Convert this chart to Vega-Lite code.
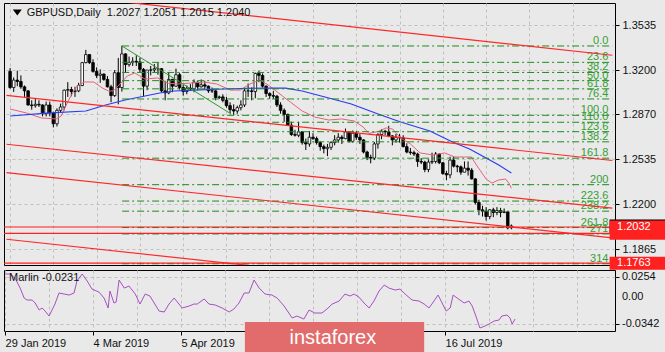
{
"$schema": "https://vega.github.io/schema/vega-lite/v6.json",
"background": "#e9e9e9",
"padding": {"left": 2, "top": 2, "right": 0, "bottom": 0},
"bounds": "flush",
"spacing": 5,
"config": {
  "view": {"stroke": "#000", "strokeWidth": 1, "fill": "#e9e9e9"},
  "font": "Liberation Sans",
  "axis": {"labelFont": "Liberation Sans", "labelFontSize": 11, "labelColor": "#111", "tickColor": "#000", "gridColor": "#c0c0c0", "gridDash": [3, 3], "gridWidth": 1, "domain": false, "zindex": 0, "labelOverlap": false}
},
"datasets": {
  "candles": [
{"d":"Jan29","i":0,"o":1.3190,"h":1.3215,"l":1.3060,"c":1.3070},
{"d":"Jan30","i":1,"o":1.3070,"h":1.3145,"l":1.3037,"c":1.3125},
{"d":"Jan31","i":2,"o":1.3125,"h":1.3195,"l":1.3080,"c":1.3115},
{"d":"Feb01","i":3,"o":1.3115,"h":1.3160,"l":1.3060,"c":1.3075},
{"d":"Feb04","i":4,"o":1.3075,"h":1.3085,"l":1.3000,"c":1.3045},
{"d":"Feb05","i":5,"o":1.3045,"h":1.3050,"l":1.2935,"c":1.2940},
{"d":"Feb06","i":6,"o":1.2940,"h":1.2975,"l":1.2905,"c":1.2935},
{"d":"Feb07","i":7,"o":1.2935,"h":1.2990,"l":1.2920,"c":1.2945},
{"d":"Feb08","i":8,"o":1.2945,"h":1.2975,"l":1.2925,"c":1.2940},
{"d":"Feb11","i":9,"o":1.2940,"h":1.2945,"l":1.2855,"c":1.2875},
{"d":"Feb12","i":10,"o":1.2875,"h":1.2965,"l":1.2855,"c":1.2940},
{"d":"Feb13","i":11,"o":1.2940,"h":1.2965,"l":1.2855,"c":1.2880},
{"d":"Feb14","i":12,"o":1.2880,"h":1.2890,"l":1.2773,"c":1.2800},
{"d":"Feb15","i":13,"o":1.2800,"h":1.2915,"l":1.2780,"c":1.2900},
{"d":"Feb18","i":14,"o":1.2900,"h":1.2950,"l":1.2885,"c":1.2925},
{"d":"Feb19","i":15,"o":1.2925,"h":1.3055,"l":1.2900,"c":1.3050},
{"d":"Feb20","i":16,"o":1.3050,"h":1.3110,"l":1.3000,"c":1.3055},
{"d":"Feb21","i":17,"o":1.3055,"h":1.3075,"l":1.3005,"c":1.3040},
{"d":"Feb22","i":18,"o":1.3040,"h":1.3075,"l":1.3000,"c":1.3045},
{"d":"Feb25","i":19,"o":1.3045,"h":1.3105,"l":1.3035,"c":1.3085},
{"d":"Feb26","i":20,"o":1.3085,"h":1.3260,"l":1.3080,"c":1.3255},
{"d":"Feb27","i":21,"o":1.3255,"h":1.3350,"l":1.3250,"c":1.3315},
{"d":"Feb28","i":22,"o":1.3315,"h":1.3315,"l":1.3245,"c":1.3255},
{"d":"Mar01","i":23,"o":1.3255,"h":1.3280,"l":1.3180,"c":1.3190},
{"d":"Mar04","i":24,"o":1.3190,"h":1.3220,"l":1.3140,"c":1.3160},
{"d":"Mar05","i":25,"o":1.3160,"h":1.3205,"l":1.3105,"c":1.3170},
{"d":"Mar06","i":26,"o":1.3170,"h":1.3175,"l":1.3120,"c":1.3130},
{"d":"Mar07","i":27,"o":1.3130,"h":1.3155,"l":1.3070,"c":1.3075},
{"d":"Mar08","i":28,"o":1.3075,"h":1.3090,"l":1.2960,"c":1.3010},
{"d":"Mar11","i":29,"o":1.3010,"h":1.3200,"l":1.3000,"c":1.3180},
{"d":"Mar12","i":30,"o":1.3180,"h":1.3290,"l":1.2945,"c":1.3070},
{"d":"Mar13","i":31,"o":1.3070,"h":1.3381,"l":1.3040,"c":1.3320},
{"d":"Mar14","i":32,"o":1.3320,"h":1.3325,"l":1.3180,"c":1.3240},
{"d":"Mar15","i":33,"o":1.3240,"h":1.3300,"l":1.3225,"c":1.3255},
{"d":"Mar18","i":34,"o":1.3255,"h":1.3295,"l":1.3230,"c":1.3265},
{"d":"Mar19","i":35,"o":1.3265,"h":1.3310,"l":1.3230,"c":1.3260},
{"d":"Mar20","i":36,"o":1.3260,"h":1.3290,"l":1.3185,"c":1.3205},
{"d":"Mar21","i":37,"o":1.3205,"h":1.3215,"l":1.3005,"c":1.3080},
{"d":"Mar22","i":38,"o":1.3080,"h":1.3200,"l":1.3050,"c":1.3200},
{"d":"Mar25","i":39,"o":1.3200,"h":1.3230,"l":1.3160,"c":1.3200},
{"d":"Mar26","i":40,"o":1.3200,"h":1.3245,"l":1.3180,"c":1.3210},
{"d":"Mar27","i":41,"o":1.3210,"h":1.3255,"l":1.3165,"c":1.3210},
{"d":"Mar28","i":42,"o":1.3210,"h":1.3215,"l":1.3035,"c":1.3045},
{"d":"Mar29","i":43,"o":1.3045,"h":1.3120,"l":1.2975,"c":1.3030},
{"d":"Apr01","i":44,"o":1.3030,"h":1.3185,"l":1.3020,"c":1.3130},
{"d":"Apr02","i":45,"o":1.3130,"h":1.3135,"l":1.3035,"c":1.3080},
{"d":"Apr03","i":46,"o":1.3080,"h":1.3210,"l":1.3075,"c":1.3165},
{"d":"Apr04","i":47,"o":1.3165,"h":1.3180,"l":1.3055,"c":1.3070},
{"d":"Apr05","i":48,"o":1.3070,"h":1.3090,"l":1.3010,"c":1.3040},
{"d":"Apr08","i":49,"o":1.3040,"h":1.3085,"l":1.3020,"c":1.3065},
{"d":"Apr09","i":50,"o":1.3065,"h":1.3095,"l":1.3045,"c":1.3060},
{"d":"Apr10","i":51,"o":1.3060,"h":1.3130,"l":1.3035,"c":1.3110},
{"d":"Apr11","i":52,"o":1.3110,"h":1.3115,"l":1.3050,"c":1.3075},
{"d":"Apr12","i":53,"o":1.3075,"h":1.3130,"l":1.3070,"c":1.3090},
{"d":"Apr15","i":54,"o":1.3090,"h":1.3120,"l":1.3055,"c":1.3080},
{"d":"Apr16","i":55,"o":1.3080,"h":1.3085,"l":1.3030,"c":1.3045},
{"d":"Apr17","i":56,"o":1.3045,"h":1.3070,"l":1.3030,"c":1.3045},
{"d":"Apr18","i":57,"o":1.3045,"h":1.3050,"l":1.2975,"c":1.2995},
{"d":"Apr19","i":58,"o":1.2995,"h":1.3010,"l":1.2985,"c":1.3000},
{"d":"Apr22","i":59,"o":1.3000,"h":1.3020,"l":1.2960,"c":1.2975},
{"d":"Apr23","i":60,"o":1.2975,"h":1.3000,"l":1.2920,"c":1.2935},
{"d":"Apr24","i":61,"o":1.2935,"h":1.2960,"l":1.2880,"c":1.2905},
{"d":"Apr25","i":62,"o":1.2905,"h":1.2945,"l":1.2866,"c":1.2895},
{"d":"Apr26","i":63,"o":1.2895,"h":1.2935,"l":1.2875,"c":1.2920},
{"d":"Apr29","i":64,"o":1.2920,"h":1.2975,"l":1.2900,"c":1.2940},
{"d":"Apr30","i":65,"o":1.2940,"h":1.3070,"l":1.2925,"c":1.3045},
{"d":"May01","i":66,"o":1.3045,"h":1.3100,"l":1.3000,"c":1.3045},
{"d":"May02","i":67,"o":1.3045,"h":1.3070,"l":1.2975,"c":1.3040},
{"d":"May03","i":68,"o":1.3040,"h":1.3180,"l":1.2990,"c":1.3175},
{"d":"May06","i":69,"o":1.3175,"h":1.3195,"l":1.3110,"c":1.3160},
{"d":"May07","i":70,"o":1.3160,"h":1.3175,"l":1.3070,"c":1.3080},
{"d":"May08","i":71,"o":1.3080,"h":1.3085,"l":1.3000,"c":1.3025},
{"d":"May09","i":72,"o":1.3025,"h":1.3035,"l":1.2985,"c":1.3010},
{"d":"May10","i":73,"o":1.3010,"h":1.3045,"l":1.2985,"c":1.3005},
{"d":"May13","i":74,"o":1.3005,"h":1.3015,"l":1.2925,"c":1.2940},
{"d":"May14","i":75,"o":1.2940,"h":1.2960,"l":1.2875,"c":1.2900},
{"d":"May15","i":76,"o":1.2900,"h":1.2915,"l":1.2815,"c":1.2870},
{"d":"May16","i":77,"o":1.2870,"h":1.2875,"l":1.2785,"c":1.2790},
{"d":"May17","i":78,"o":1.2790,"h":1.2815,"l":1.2710,"c":1.2720},
{"d":"May20","i":79,"o":1.2720,"h":1.2755,"l":1.2705,"c":1.2715},
{"d":"May21","i":80,"o":1.2715,"h":1.2815,"l":1.2700,"c":1.2740},
{"d":"May22","i":81,"o":1.2740,"h":1.2745,"l":1.2645,"c":1.2660},
{"d":"May23","i":82,"o":1.2660,"h":1.2690,"l":1.2605,"c":1.2650},
{"d":"May24","i":83,"o":1.2650,"h":1.2745,"l":1.2630,"c":1.2700},
{"d":"May27","i":84,"o":1.2700,"h":1.2730,"l":1.2680,"c":1.2690},
{"d":"May28","i":85,"o":1.2690,"h":1.2705,"l":1.2645,"c":1.2660},
{"d":"May29","i":86,"o":1.2660,"h":1.2670,"l":1.2600,"c":1.2630},
{"d":"May30","i":87,"o":1.2630,"h":1.2645,"l":1.2580,"c":1.2615},
{"d":"May31","i":88,"o":1.2615,"h":1.2650,"l":1.2560,"c":1.2625},
{"d":"Jun03","i":89,"o":1.2625,"h":1.2670,"l":1.2605,"c":1.2660},
{"d":"Jun04","i":90,"o":1.2660,"h":1.2715,"l":1.2640,"c":1.2680},
{"d":"Jun05","i":91,"o":1.2680,"h":1.2730,"l":1.2660,"c":1.2700},
{"d":"Jun06","i":92,"o":1.2700,"h":1.2715,"l":1.2650,"c":1.2690},
{"d":"Jun07","i":93,"o":1.2690,"h":1.2765,"l":1.2685,"c":1.2740},
{"d":"Jun10","i":94,"o":1.2740,"h":1.2740,"l":1.2660,"c":1.2670},
{"d":"Jun11","i":95,"o":1.2670,"h":1.2750,"l":1.2660,"c":1.2730},
{"d":"Jun12","i":96,"o":1.2730,"h":1.2745,"l":1.2680,"c":1.2700},
{"d":"Jun13","i":97,"o":1.2700,"h":1.2725,"l":1.2650,"c":1.2680},
{"d":"Jun14","i":98,"o":1.2680,"h":1.2685,"l":1.2580,"c":1.2590},
{"d":"Jun17","i":99,"o":1.2590,"h":1.2600,"l":1.2530,"c":1.2550},
{"d":"Jun18","i":100,"o":1.2550,"h":1.2570,"l":1.2506,"c":1.2545},
{"d":"Jun19","i":101,"o":1.2545,"h":1.2665,"l":1.2530,"c":1.2650},
{"d":"Jun20","i":102,"o":1.2650,"h":1.2730,"l":1.2615,"c":1.2720},
{"d":"Jun21","i":103,"o":1.2720,"h":1.2760,"l":1.2685,"c":1.2745},
{"d":"Jun24","i":104,"o":1.2745,"h":1.2755,"l":1.2715,"c":1.2740},
{"d":"Jun25","i":105,"o":1.2740,"h":1.2785,"l":1.2700,"c":1.2710},
{"d":"Jun26","i":106,"o":1.2710,"h":1.2715,"l":1.2640,"c":1.2680},
{"d":"Jun27","i":107,"o":1.2680,"h":1.2725,"l":1.2660,"c":1.2700},
{"d":"Jun28","i":108,"o":1.2700,"h":1.2725,"l":1.2660,"c":1.2695},
{"d":"Jul01","i":109,"o":1.2695,"h":1.2715,"l":1.2625,"c":1.2630},
{"d":"Jul02","i":110,"o":1.2630,"h":1.2655,"l":1.2580,"c":1.2590},
{"d":"Jul03","i":111,"o":1.2590,"h":1.2620,"l":1.2570,"c":1.2585},
{"d":"Jul04","i":112,"o":1.2585,"h":1.2600,"l":1.2560,"c":1.2575},
{"d":"Jul05","i":113,"o":1.2575,"h":1.2585,"l":1.2480,"c":1.2520},
{"d":"Jul08","i":114,"o":1.2520,"h":1.2545,"l":1.2500,"c":1.2515},
{"d":"Jul09","i":115,"o":1.2515,"h":1.2525,"l":1.2440,"c":1.2460},
{"d":"Jul10","i":116,"o":1.2460,"h":1.2535,"l":1.2440,"c":1.2515},
{"d":"Jul11","i":117,"o":1.2515,"h":1.2585,"l":1.2500,"c":1.2520},
{"d":"Jul12","i":118,"o":1.2520,"h":1.2590,"l":1.2505,"c":1.2575},
{"d":"Jul15","i":119,"o":1.2575,"h":1.2580,"l":1.2500,"c":1.2510},
{"d":"Jul16","i":120,"o":1.2510,"h":1.2515,"l":1.2420,"c":1.2430},
{"d":"Jul17","i":121,"o":1.2430,"h":1.2450,"l":1.2380,"c":1.2420},
{"d":"Jul18","i":122,"o":1.2420,"h":1.2555,"l":1.2395,"c":1.2530},
{"d":"Jul19","i":123,"o":1.2530,"h":1.2560,"l":1.2475,"c":1.2485},
{"d":"Jul22","i":124,"o":1.2485,"h":1.2495,"l":1.2440,"c":1.2480},
{"d":"Jul23","i":125,"o":1.2480,"h":1.2490,"l":1.2420,"c":1.2440},
{"d":"Jul24","i":126,"o":1.2440,"h":1.2520,"l":1.2440,"c":1.2470},
{"d":"Jul25","i":127,"o":1.2470,"h":1.2520,"l":1.2415,"c":1.2455},
{"d":"Jul26","i":128,"o":1.2455,"h":1.2470,"l":1.2385,"c":1.2390},
{"d":"Jul29","i":129,"o":1.2390,"h":1.2395,"l":1.2200,"c":1.2215},
{"d":"Jul30","i":130,"o":1.2215,"h":1.2235,"l":1.2120,"c":1.2160},
{"d":"Jul31","i":131,"o":1.2160,"h":1.2190,"l":1.2110,"c":1.2150},
{"d":"Aug01","i":132,"o":1.2150,"h":1.2180,"l":1.2080,"c":1.2110},
{"d":"Aug02","i":133,"o":1.2110,"h":1.2165,"l":1.2090,"c":1.2160},
{"d":"Aug05","i":134,"o":1.2160,"h":1.2175,"l":1.2105,"c":1.2140},
{"d":"Aug06","i":135,"o":1.2140,"h":1.2180,"l":1.2120,"c":1.2155},
{"d":"Aug07","i":136,"o":1.2155,"h":1.2175,"l":1.2105,"c":1.2140},
{"d":"Aug08","i":137,"o":1.2140,"h":1.2170,"l":1.2135,"c":1.2145},
{"d":"Aug09","i":138,"o":1.2145,"h":1.2150,"l":1.2015,"c":1.2025},
{"d":"Aug12","i":139,"o":1.2027,"h":1.2051,"l":1.2015,"c":1.2040}
  ],
  "pink": [
{"i":0,"p":1.2910},{"i":4.6,"p":1.2880},{"i":8.7,"p":1.2843},{"i":12.8,"p":1.2836},{"i":14.2,"p":1.2858},{"i":16.1,"p":1.2970},{"i":18.3,"p":1.3074},{"i":20.5,"p":1.3111},{"i":23.2,"p":1.3111},{"i":25.6,"p":1.3066},{"i":27.3,"p":1.3044},{"i":28.6,"p":1.3044},{"i":30.5,"p":1.3096},{"i":32.5,"p":1.3156},{"i":34.6,"p":1.3178},{"i":37.4,"p":1.3133},{"i":40.9,"p":1.3141},{"i":43.6,"p":1.3103},{"i":46.4,"p":1.3096},{"i":50.2,"p":1.3103},{"i":53.7,"p":1.3111},{"i":57.3,"p":1.3096},{"i":61.1,"p":1.3051},{"i":63.8,"p":1.3051},{"i":66.5,"p":1.3096},{"i":69.3,"p":1.3126},{"i":72.0,"p":1.3081},{"i":75.5,"p":1.3007},{"i":81.0,"p":1.2895},{"i":84.5,"p":1.2850},{"i":88.4,"p":1.2828},{"i":91.9,"p":1.2836},{"i":95.4,"p":1.2821},{"i":97.9,"p":1.2776},{"i":99.5,"p":1.2728},{"i":102.0,"p":1.2742},{"i":104.2,"p":1.2769},{"i":106.1,"p":1.2761},{"i":108.3,"p":1.2694},{"i":111.0,"p":1.2650},{"i":113.7,"p":1.2583},{"i":117.3,"p":1.2568},{"i":120.5,"p":1.2583},{"i":123.3,"p":1.2553},{"i":126.0,"p":1.2553},{"i":127.9,"p":1.2553},{"i":129.5,"p":1.2486},{"i":132.0,"p":1.2389},{"i":133.6,"p":1.2359},{"i":135.5,"p":1.2382},{"i":137.4,"p":1.2389},{"i":138.3,"p":1.2359},{"i":139,"p":1.2320}
  ],
  "blue": [
{"i":0,"p":1.2858},{"i":10.1,"p":1.2880},{"i":21.0,"p":1.2895},{"i":26.5,"p":1.2940},{"i":31.9,"p":1.2977},{"i":37.4,"p":1.3007},{"i":41.5,"p":1.3029},{"i":45.5,"p":1.3044},{"i":51.0,"p":1.3051},{"i":59.2,"p":1.3059},{"i":70.1,"p":1.3066},{"i":76.4,"p":1.3066},{"i":81.0,"p":1.3044},{"i":87.3,"p":1.2999},{"i":94.6,"p":1.2947},{"i":102.8,"p":1.2865},{"i":108.3,"p":1.2813},{"i":116.4,"p":1.2746},{"i":122.7,"p":1.2665},{"i":127.4,"p":1.2612},{"i":132.0,"p":1.2545},{"i":135.5,"p":1.2493},{"i":139,"p":1.2434}
  ],
  "trend": [
{"id":"a","i":20,"p":1.3740},{"id":"a","i":167,"p":1.3310},
{"id":"b","i":-1,"p":1.3012},{"id":"b","i":167,"p":1.2527},
{"id":"c","i":-1,"p":1.2648},{"id":"c","i":167,"p":1.2172},
{"id":"d","i":-1,"p":1.2437},{"id":"d","i":167,"p":1.1951},
{"id":"e","i":-1,"p":1.1941},{"id":"e","i":167,"p":1.1454}
  ],
  "diag": [{"i":31,"p":1.3379},{"i":61.3,"p":1.2873}],
  "hlines": [{"p":1.2032},{"p":1.1985},{"p":1.1763}],
  "fibo": [
{"lbl":"0.0","p":1.3379},{"lbl":"23.6","p":1.32572},{"lbl":"38.2","p":1.31819},{"lbl":"50.0","p":1.3121},{"lbl":"61.8","p":1.30601},{"lbl":"76.4","p":1.29848},{"lbl":"100.0","p":1.2863},{"lbl":"110.0","p":1.28114},{"lbl":"123.6","p":1.27412},{"lbl":"138.2","p":1.26659},{"lbl":"161.8","p":1.25441},{"lbl":"200","p":1.2347},{"lbl":"223.6","p":1.22252},{"lbl":"238.2","p":1.21499},{"lbl":"261.8","p":1.20281},{"lbl":"271","p":1.19806},{"lbl":"314","p":1.17588}
  ],
  "labels": [{"p":1.2040,"t":"1.2040","k":"bid"},{"p":1.1985,"t":"1.1985","k":"hid"},{"p":1.2032,"t":"1.2032","k":"top"},{"p":1.1763,"t":"1.1763","k":"top"}],
  "osclabels": [{"v":0.0254,"t":"0.0254"},{"v":0,"t":"0.00"},{"v":-0.0342,"t":"-0.0342"}],
  "marlin": [
{"i":0,"v":0.0292},{"i":1.4,"v":0.0292},{"i":2.7,"v":0.0241},{"i":4.1,"v":0.0114},{"i":5.2,"v":-0.0013},{"i":6.0,"v":-0.0038},{"i":7.4,"v":-0.0038},{"i":8.2,"v":-0.0076},{"i":9.3,"v":-0.0165},{"i":10.1,"v":-0.0139},{"i":10.9,"v":-0.0178},{"i":12.0,"v":-0.0241},{"i":12.8,"v":-0.0165},{"i":13.6,"v":-0.0089},{"i":14.7,"v":0.0051},{"i":16.1,"v":0.0038},{"i":17.5,"v":0.0025},{"i":18.8,"v":0.0051},{"i":19.6,"v":0.0203},{"i":21.0,"v":0.0292},{"i":22.4,"v":0.0203},{"i":23.7,"v":0.0101},{"i":25.6,"v":0.0063},{"i":27.0,"v":-0.0013},{"i":28.1,"v":-0.0139},{"i":28.6,"v":0.0076},{"i":29.7,"v":-0.0076},{"i":30.3,"v":-0.0063},{"i":31.1,"v":0.0216},{"i":32.5,"v":0.0114},{"i":33.8,"v":0.0139},{"i":35.5,"v":0.0038},{"i":36.8,"v":-0.0089},{"i":38.2,"v":0.0038},{"i":39.5,"v":0.0013},{"i":42.0,"v":-0.0178},{"i":43.4,"v":-0.0190},{"i":44.7,"v":-0.0089},{"i":46.1,"v":-0.0013},{"i":48.3,"v":-0.0139},{"i":50.2,"v":-0.0114},{"i":51.5,"v":-0.0089},{"i":52.4,"v":-0.0089},{"i":54.3,"v":-0.0025},{"i":55.6,"v":-0.0089},{"i":57.3,"v":-0.0101},{"i":59.2,"v":-0.0139},{"i":61.1,"v":-0.0190},{"i":62.4,"v":-0.0152},{"i":63.8,"v":-0.0076},{"i":65.2,"v":0.0051},{"i":66.5,"v":0.0051},{"i":67.9,"v":0.0216},{"i":69.3,"v":0.0114},{"i":70.9,"v":0.0038},{"i":72.8,"v":0.0025},{"i":74.2,"v":-0.0013},{"i":76.1,"v":-0.0114},{"i":78.3,"v":-0.0266},{"i":79.6,"v":-0.0241},{"i":81.5,"v":-0.0279},{"i":82.9,"v":-0.0165},{"i":84.5,"v":-0.0203},{"i":86.4,"v":-0.0203},{"i":87.8,"v":-0.0152},{"i":89.2,"v":-0.0089},{"i":91.1,"v":-0.0051},{"i":92.7,"v":0.0038},{"i":94.1,"v":0.0013},{"i":95.2,"v":0.0038},{"i":96.5,"v":0.0},{"i":97.9,"v":-0.0076},{"i":99.3,"v":-0.0139},{"i":100.6,"v":-0.0051},{"i":102.0,"v":0.0076},{"i":103.4,"v":0.0152},{"i":104.7,"v":0.0114},{"i":106.4,"v":0.0089},{"i":107.7,"v":0.0101},{"i":109.1,"v":0.0038},{"i":111.0,"v":-0.0038},{"i":112.9,"v":-0.0051},{"i":114.3,"v":-0.0089},{"i":115.6,"v":-0.0139},{"i":116.4,"v":-0.0089},{"i":118.1,"v":0.0025},{"i":119.2,"v":-0.0076},{"i":120.3,"v":-0.0178},{"i":121.4,"v":-0.0139},{"i":122.2,"v":0.0025},{"i":123.3,"v":-0.0013},{"i":125.2,"v":-0.0076},{"i":126.5,"v":-0.0051},{"i":127.4,"v":-0.0114},{"i":128.4,"v":-0.0241},{"i":129.5,"v":-0.0393},{"i":130.9,"v":-0.0368},{"i":132.0,"v":-0.0342},{"i":133.4,"v":-0.0304},{"i":134.7,"v":-0.0292},{"i":135.5,"v":-0.0241},{"i":136.9,"v":-0.0228},{"i":137.7,"v":-0.0266},{"i":138.3,"v":-0.0342},{"i":139.1,"v":-0.0279}
  ],
  "texts": [{"t":"GBPUSD,Daily\u00a0 1.2027 1.2051 1.2015 1.2040","m":"Marlin -0.0231","w":"instaforex"}]
},
"vconcat": [
{
  "width": 611, "height": 262,
  "layer": [
    {"data": {"name": "candles"},
     "mark": {"type": "rule", "color": "#000", "strokeWidth": 1},
     "encoding": {
       "x": {"field": "i", "type": "quantitative", "scale": {"domain": [-0.3, 166.35], "nice": false, "zero": false},
             "axis": {"title": null, "values": [0,12,24,36,48,60,72,84,96,108,120,132,144,156], "grid": true, "labels": false, "ticks": false}},
       "y": {"field": "l", "type": "quantitative", "scale": {"domain": [1.17494, 1.36987], "nice": false, "zero": false},
             "axis": {"title": null, "orient": "right", "values": [1.3535, 1.32, 1.287, 1.2535, 1.22, 1.1865], "format": ".4f", "grid": true, "tickSize": 4, "labelPadding": 3, "labelOverlap": false}},
       "y2": {"field": "h"}
     }},
    {"data": {"name": "candles"},
     "mark": {"type": "bar", "width": 2.6, "stroke": "#000", "strokeWidth": 0.8},
     "encoding": {
       "x": {"field": "i", "type": "quantitative"},
       "y": {"field": "o", "type": "quantitative"},
       "y2": {"field": "c"},
       "fill": {"condition": {"test": "datum.c >= datum.o", "value": "#ffffff"}, "value": "#000000"}
     }},
    {"data": {"name": "pink"},
     "mark": {"type": "line", "color": "#e8607c", "strokeWidth": 1, "clip": true},
     "encoding": {"x": {"field": "i", "type": "quantitative"}, "y": {"field": "p", "type": "quantitative"}}},
    {"data": {"name": "blue"},
     "mark": {"type": "line", "color": "#2a3cf0", "strokeWidth": 1.2, "clip": true},
     "encoding": {"x": {"field": "i", "type": "quantitative"}, "y": {"field": "p", "type": "quantitative"}}},
    {"data": {"name": "fibo"},
     "mark": {"type": "rule", "color": "#1c8c1c", "strokeWidth": 1, "strokeDash": [7, 3, 2, 3], "clip": true},
     "encoding": {"x": {"datum": 31.07}, "x2": {"datum": 167}, "y": {"field": "p", "type": "quantitative"}}},
    {"data": {"name": "fibo"},
     "mark": {"type": "text", "align": "right", "baseline": "bottom", "color": "#34a034", "fontSize": 11, "font": "Liberation Sans"},
     "encoding": {"x": {"datum": 165.9}, "y": {"field": "p", "type": "quantitative"}, "text": {"field": "lbl"}}},
    {"data": {"name": "diag"},
     "mark": {"type": "line", "color": "#2a9a2a", "strokeWidth": 1},
     "encoding": {"x": {"field": "i", "type": "quantitative"}, "y": {"field": "p", "type": "quantitative"}}},
    {"data": {"name": "trend"},
     "mark": {"type": "line", "color": "#ff2828", "strokeWidth": 1.2, "clip": true},
     "encoding": {"x": {"field": "i", "type": "quantitative"}, "y": {"field": "p", "type": "quantitative"}, "detail": {"field": "id"}}},
    {"data": {"name": "hlines"},
     "mark": {"type": "rule", "color": "#ff2020", "strokeWidth": 1.2},
     "encoding": {"y": {"field": "p", "type": "quantitative"}}},
    {"data": {"name": "labels"},
     "transform": [{"filter": "datum.k == 'bid'"}],
     "mark": {"type": "point", "shape": "M-1,-0.232H1V0.232H-1Z", "size": 3136, "filled": true, "opacity": 1, "color": "#000000", "strokeWidth": 0},
     "encoding": {"x": {"datum": 174.0}, "y": {"field": "p", "type": "quantitative"}}},
    {"data": {"name": "labels"},
     "transform": [{"filter": "datum.k == 'hid'"}],
     "mark": {"type": "point", "shape": "M-1,-0.232H1V0.232H-1Z", "size": 3136, "filled": true, "opacity": 1, "color": "#ff2020", "strokeWidth": 0},
     "encoding": {"x": {"datum": 174.0}, "y": {"field": "p", "type": "quantitative"}}},
    {"data": {"name": "labels"},
     "transform": [{"filter": "datum.k == 'top'"}],
     "mark": {"type": "point", "shape": "M-1,-0.232H1V0.232H-1Z", "size": 3136, "filled": true, "opacity": 1, "color": "#ff2020", "strokeWidth": 0},
     "encoding": {"x": {"datum": 174.0}, "y": {"field": "p", "type": "quantitative"}}},
    {"data": {"name": "labels"},
     "transform": [{"filter": "datum.k == 'top'"}],
     "mark": {"type": "text", "align": "left", "baseline": "middle", "color": "#ffffff", "fontSize": 11, "font": "Liberation Sans"},
     "encoding": {"x": {"datum": 168.3}, "y": {"field": "p", "type": "quantitative"}, "text": {"field": "t"}}},
    {"data": {"name": "texts"},
     "mark": {"type": "point", "shape": "M-1,-0.67L1,-0.67L0,0.67Z", "size": 81, "filled": true, "opacity": 1, "color": "#000000", "strokeWidth": 0},
     "encoding": {"x": {"datum": 2.0}, "y": {"datum": 1.3628}}},
    {"data": {"name": "texts"},
     "mark": {"type": "text", "align": "left", "baseline": "middle", "color": "#111111", "fontSize": 11, "font": "Liberation Sans"},
     "encoding": {"x": {"datum": 4.6}, "y": {"datum": 1.3624}, "text": {"field": "t"}}}
  ]
},
{
  "width": 611, "height": 61,
  "layer": [
    {"data": {"name": "marlin"},
     "mark": {"type": "line", "color": "#a94fc2", "strokeWidth": 1, "clip": true},
     "encoding": {
       "x": {"field": "i", "type": "quantitative", "scale": {"domain": [-0.3, 166.35], "nice": false, "zero": false},
             "axis": {"title": null, "values": [0,12,24,36,48,60,72,84,96,108,120,132,144,156], "grid": true, "tickSize": 4,
                      "tickOpacity": {"condition": {"test": "datum.value % 24 == 0 && datum.value <= 120", "value": 1}, "value": 0},
                      "labelAlign": "left", "labelBaseline": "top", "labelPadding": 2, "labelFlush": false, "labelOverlap": false,
                      "labelExpr": "datum.value == 0 ? '29 Jan 2019' : datum.value == 24 ? '4 Mar 2019' : datum.value == 48 ? '5 Apr 2019' : datum.value == 120 ? '16 Jul 2019' : ''"}},
       "y": {"field": "v", "type": "quantitative", "scale": {"domain": [-0.0431, 0.0343], "nice": false, "zero": false},
             "axis": {"title": null, "orient": "right", "values": [-0.0342, 0, 0.0254], "grid": true, "tickSize": 4, "labels": false}}
     }},
    {"data": {"name": "osclabels"},
     "mark": {"type": "text", "align": "left", "baseline": "middle", "color": "#111111", "fontSize": 11, "font": "Liberation Sans"},
     "encoding": {"x": {"datum": 168.26}, "y": {"field": "v", "type": "quantitative"}, "text": {"field": "t"}}},
    {"data": {"name": "texts"},
     "mark": {"type": "text", "align": "left", "baseline": "middle", "color": "#111111", "fontSize": 11, "font": "Liberation Sans"},
     "encoding": {"x": {"datum": 1.06}, "y": {"datum": 0.0241}, "text": {"field": "m"}}},
    {"data": {"name": "texts"},
     "mark": {"type": "rect", "color": "#e26b6b", "opacity": 1},
     "encoding": {"x": {"datum": 65.4}, "x2": {"datum": 114.3}, "y": {"datum": -0.0317}, "y2": {"datum": -0.072}}},
    {"data": {"name": "texts"},
     "mark": {"type": "text", "align": "center", "baseline": "middle", "color": "#ffffff", "fontSize": 20, "font": "Liberation Sans"},
     "encoding": {"x": {"datum": 89.4}, "y": {"datum": -0.052}, "text": {"field": "w"}}}
  ]
}
]
}
